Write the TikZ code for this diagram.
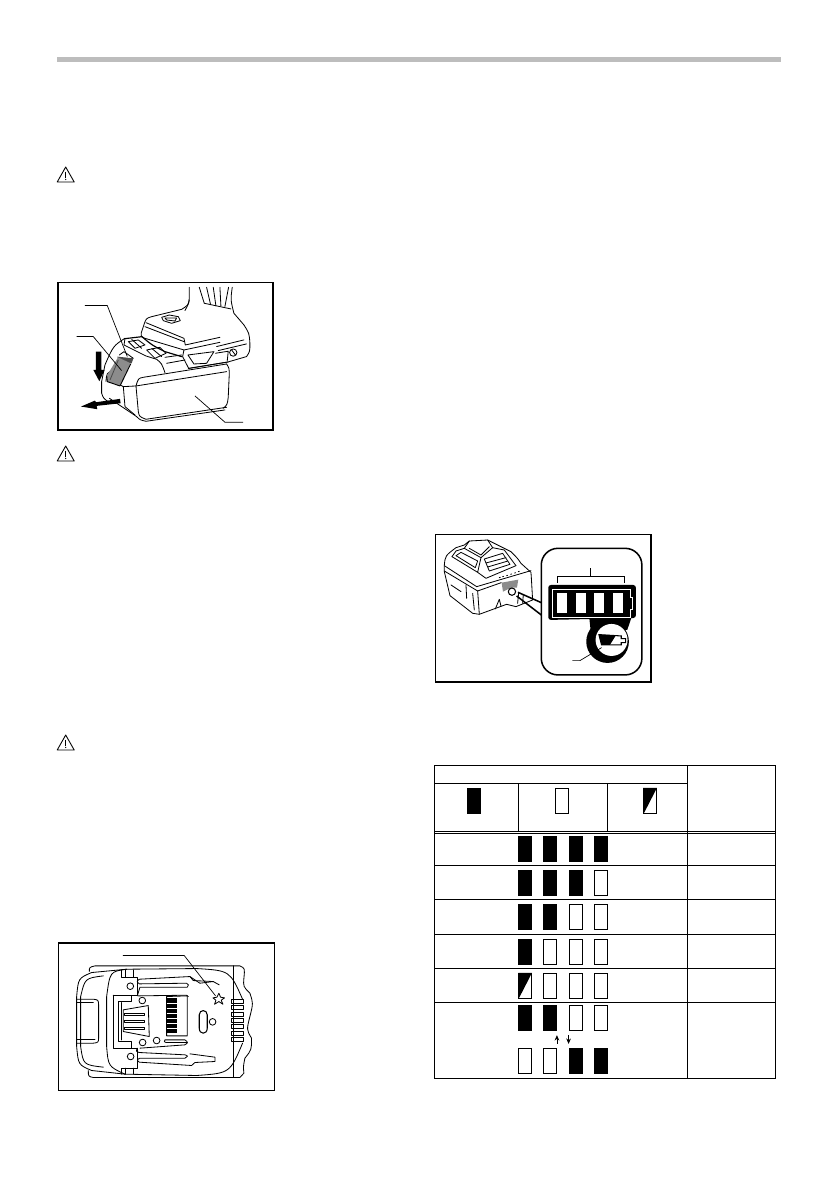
\documentclass[tikz,border=0pt]{standalone}
\usetikzlibrary{arrows.meta}
\definecolor{rulegray}{HTML}{BDBDBD}
\definecolor{latchgray}{HTML}{8C8C8C}
\definecolor{latchdark}{HTML}{4A4A4A}
\tikzset{
  boxframe/.style={draw=black, line width=1.3pt},
  cellrule/.style={draw=black, line width=0.8pt},
  ink/.style={draw=black, line width=0.7pt, line join=round, line cap=round},
  leader/.style={draw=black, line width=0.6pt},
  zoomed/.style={x=0.01cm, y=-0.01cm},
  warnsign/.pic={
    \draw[black, line width=0.75pt, line join=round] (0,0) -- (8.5,15) -- (-8.5,15) -- cycle;
    \draw[black, line width=0.9pt] (0,4.5) -- (0,10.5);
    \fill[black] (0,12.4) circle (0.7);
  },
  barfull/.pic={\fill[black] (0,0) rectangle (41,78);},
  barempty/.pic={\draw[black, line width=0.7pt, fill=white] (0.5,0.5) rectangle (40.5,77);},
  barhalf/.pic={
    \draw[black, line width=0.7pt, fill=white] (0.5,0.5) rectangle (40.5,77);
    \fill[black] (0,0) -- (41,0) -- (3,74) -- (0,74) -- cycle;
  }
}
\begin{document}
\begin{tikzpicture}[x=0.03cm, y=-0.03cm]
  \useasboundingbox[fill=white] (0,0) rectangle (838,1190);
  % top rule
  \fill[rulegray] (57,57) rectangle (781,62);
  % warning signs
  \foreach \yy in {167,446,735}
    \pic at (65.7,\yy) {warnsign};
  % tool and battery, side view
  \begin{scope}[shift={(50,160)}, zoomed]
    \draw[boxframe] (24,368) rectangle (670,810);
    % handle
    \draw[ink] (418,382) -- (418,415) .. controls (416,432) .. (405,452);
    \draw[ink] (547,382) .. controls (542,420) .. (552,460) .. controls (565,475) .. (582,495);
    \draw[ink] (448,382) -- (463,430) (470,382) -- (482,434) (490,382) -- (498,438) (510,382) -- (513,438) (536,382) -- (525,440);
    \draw[ink] (463,430) -- (543,447);
    % foot, right side
    \draw[ink] (582,495) .. controls (598,520) .. (600,550) .. controls (600,575) .. (590,590) -- (535,606) -- (415,626);
    \draw[ink] (500,560) -- (582,540) (505,572) -- (590,552);
    \draw[ink] (550,578) circle (11) (545,570) -- (557,586);
    \draw[ink] (497,580) -- (535,574) -- (532,603);
    % battery, right side
    \draw[ink] (530,612) .. controls (538,625) .. (538,645) -- (535,712) .. controls (532,735) .. (520,745);
    % arrows
    \fill[black] (138,575) -- (154,575) -- (154,630) -- (164,630) -- (148,664) -- (130,630) -- (138,630) -- cycle;
    \fill[black] (210,717) -- (212,730) -- (140,738) -- (142,748) -- (93,740) -- (135,722) -- (138,727) -- cycle;
    % battery, left side
    \draw[ink] (225,535) .. controls (190,558) .. (165,615) -- (155,665) -- (155,700) .. controls (160,715) .. (178,728);
    \draw[ink] (190,630) .. controls (170,640) .. (168,665);
  \end{scope}
  \begin{scope}[shift={(110,300)}, zoomed]
    % foot
    \draw[ink] (238,0) .. controls (235,15) .. (215,28) -- (125,50) .. controls (108,55) .. (100,80) -- (94,98) .. controls (93,110) .. (105,115) -- (222,150) -- (330,127);
    \draw[ink] (155,52) -- (178,45) -- (205,50) -- (211,62) -- (185,70) -- (160,62) -- cycle (165,54) -- (200,54) -- (195,63) -- (170,60) -- cycle;
    \draw[ink] (108,68) -- (222,115) -- (226,135) -- (330,112);
    \draw[ink] (105,80) -- (222,125);
    % window
    \draw[ink] (234,165) -- (312,155) -- (290,190) -- (252,192) -- cycle;
    \draw[ink] (222,150) -- (218,170) -- (236,205) -- (355,186);
    % plate
    \draw[ink, line width=1pt] (45,116) -- (96,110) .. controls (125,135) .. (165,155) -- (215,170);
    \draw[ink] (45,116) -- (42,135) -- (108,168) -- (140,178) .. controls (155,190) .. (165,218);
    \draw[ink] (55,125) -- (85,120) -- (105,135) -- (75,145) -- cycle (110,150) -- (150,142) -- (168,160) -- (135,175) -- cycle;
    \draw[ink] (65,118) -- (95,145) (125,145) -- (155,170);
    \draw[ink] (165,172) -- (215,165) (170,190) -- (225,180);
    % battery front
    \draw[ink] (350,192) -- (100,232) .. controls (85,235) .. (78,258) -- (40,260) -- (25,252);
    \draw[ink] (78,258) -- (350,215);
    \draw[ink] (78,258) -- (85,335) .. controls (88,350) .. (108,358) -- (350,322);
    \draw[ink] (-2,295) -- (80,350) .. controls (90,360) .. (108,364) -- (345,330);
    \draw[ink] (40,260) -- (45,320) (45,320) -- (75,345);
    % latch
    \fill[latchdark] (22,170) -- (70,175) -- (65,190) -- (45,190) -- (25,178) -- cycle;
    \fill[latchgray] (-10,228) -- (24,172) -- (62,190) -- (30,258) -- (-8,245) -- cycle;
    \draw[black, line width=0.8pt] (-8,245) -- (30,258) (30,258) -- (62,192) (-10,228) -- (-8,245);
    \draw[ink] (28,165) -- (42,155) -- (70,175);
    \draw[latchdark, line width=0.7pt] (25,180) -- (0,240);
  \end{scope}
  \begin{scope}[shift={(50,160)}, zoomed]
    % leaders
    \draw[leader] (105,437) -- (172,437) -- (232,590);
    \draw[leader] (80,530) -- (130,530) -- (215,632);
    \draw[leader] (435,708) -- (525,787) -- (580,787);
  \end{scope}
  % battery with gauge
  \begin{scope}[shift={(430,530)}, zoomed]
    \draw[boxframe] (16,14) rectangle (664,456);
    % rounded panel
    \draw[black, line width=1.3pt, fill=white, rounded corners=0.5cm] (334,55) rectangle (636,435);
    % gauge, black ground
    \fill[black, rounded corners=0.08cm] (355,165) -- (618,165) -- (618,264) -- (355,270) -- cycle;
    \fill[black] (533,335) circle (64);
    \fill[black] (478,262) -- (605,262) -- (592,300) -- (482,300) -- cycle;
    \fill[white] (545,330) circle (48);
    \draw[white, line width=0.6pt] (367,178) -- (600,178) -- (600,202) -- (607,202) -- (607,238) -- (600,238) -- (600,262) -- (367,262) -- cycle;
    \foreach \xx in {382,437,493,550}
      \fill[white] (\xx,190) rectangle ++(30,60);
    % small cell sign
    \fill[black] (507,314) -- (558,316) -- (540,345) -- (515,345) -- cycle;
    \draw[black, line width=0.9pt] (507,314) -- (574,318) -- (574,326) -- (587,326) -- (587,338) -- (574,338) -- (574,345) -- (515,345) -- cycle;
    % bracket and leaders
    \draw[leader] (382,158) -- (382,140) -- (582,140) -- (582,158) (481,115) -- (481,140);
    \draw[leader] (427,392) -- (450,392) -- (515,353);
  \end{scope}
  \begin{scope}[shift={(436,535)}, zoomed]
    % battery body
    \draw[ink] (25,90) .. controls (28,62) .. (60,38) -- (85,30) -- (100,18) -- (155,15) -- (195,35) -- (225,50) .. controls (245,70) .. (255,85) -- (285,112) -- (286,125) -- (290,195) -- (240,215) -- (212,208) -- (130,238) -- (110,235) -- (42,182) -- (25,110) -- cycle;
    \draw[ink] (25,92) -- (122,155) -- (285,107) (25,108) -- (125,168) -- (196,143);
    \draw[ink] (125,168) -- (130,238);
    \draw[ink] (45,150) -- (75,170) (90,150) -- (92,190) (110,175) -- (115,225);
    \draw[ink] (178,222) -- (190,193) -- (195,213) (245,205) -- (248,175) (260,205) -- (262,180);
    % handle on top
    \draw[ink] (48,65) -- (60,48) -- (85,40) -- (100,18) (155,15) -- (170,38) -- (205,45) -- (240,92);
    \draw[ink] (48,65) -- (125,112) -- (135,68) -- (85,40) (60,62) -- (118,98) -- (125,78) -- (75,52) -- cycle;
    \draw[ink] (135,68) -- (170,38) (100,40) -- (135,60) -- (160,35);
    \draw[ink] (125,112) -- (150,130) -- (240,92);
    \draw[ink] (145,72) -- (200,55) -- (222,88) -- (160,108) -- cycle (150,84) -- (210,68) (155,96) -- (216,78);
    \foreach \dx/\dy in {190/128,200/125,212/122,224/118,236/114,247/110}
      \draw[ink] (\dx,\dy) -- ++(3,-1);
    % switch patch and button
    \fill[latchgray] (197,143) -- (247,134) -- (243,158) -- (226,158) -- (201,170) -- cycle;
    \draw[ink, line width=0.9pt, fill=white] (228,170) circle (11);
    % wedge to gauge
    \draw[black, line width=1.3pt] (246,172) -- (316,203) (242,183) -- (316,240);
  \end{scope}
  % indication table
  \begin{scope}[shift={(425,760)}, zoomed]
    \draw[cellrule] (28,16) rectangle (1051,956);
    \draw[cellrule] (787,16) -- (787,956) (28,70) -- (787,70);
    \draw[cellrule] (280,70) -- (280,214) (548,70) -- (548,214);
    \draw[cellrule] (28,214) -- (1051,214) (28,220) -- (1051,220);
    \foreach \yy in {316,418,523,625,727}
      \draw[cellrule] (28,\yy) -- (1051,\yy);
    % legend signs
    \pic at (127,84) {barfull};
    \pic at (390,84) {barempty};
    \pic at (655,84) {barhalf};
    % rows of cells
    \foreach \yy/\a/\b/\c/\d in {228/full/full/full/full, 330/full/full/full/empty, 432/full/full/empty/empty, 537/full/empty/empty/empty, 639/half/empty/empty/empty, 735/full/full/empty/empty, 864/empty/empty/full/full}
      {\pic at (280,\yy) {bar\a};
       \pic at (355,\yy) {bar\b};
       \pic at (433,\yy) {bar\c};
       \pic at (508,\yy) {bar\d};}
    % swap marks
    \draw[black, line width=0.6pt, -{Stealth[length=1.6mm, width=1.4mm]}] (396,852) -- (396,826);
    \draw[black, line width=0.6pt, -{Stealth[length=1.6mm, width=1.4mm]}] (431,826) -- (431,852);
  \end{scope}
  % battery, terminal side
  \begin{scope}[shift={(50,730)}, zoomed]
    \draw[boxframe] (26,640) rectangle (674,1082);
    % outer shell
    \draw[ink] (118,725) .. controls (118,712) .. (135,708) -- (550,708) -- (570,708) .. controls (585,715) .. (582,745) .. controls (580,770) .. (600,790) .. controls (610,820) .. (600,860) .. controls (590,900) .. (605,925) .. controls (605,960) .. (585,985) .. controls (580,1010) .. (582,1030) -- (570,1043) -- (130,1043) .. controls (115,1040) .. (115,1022);
    \draw[ink] (551,708) -- (551,1043);
    \draw[ink] (125,728) .. controls (85,745) .. (80,800) -- (80,950) .. controls (85,1005) .. (125,1022) -- (225,1033);
    \draw[ink] (160,738) .. controls (105,745) .. (92,800) -- (92,950) .. controls (100,1005) .. (160,1012);
    \draw[ink] (125,728) -- (230,718);
    \draw[ink] (230,718) .. controls (180,725) .. (170,800) -- (170,950) .. controls (175,1010) .. (225,1033);
    \draw[ink] (230,718) -- (440,716) .. controls (540,722) .. (578,808);
    \draw[ink] (225,1033) -- (440,1037) .. controls (540,1030) .. (578,940);
    % handle slot
    \draw[ink] (82,808) -- (130,808) .. controls (145,810) .. (146,825) -- (146,925) .. controls (145,938) .. (130,940) -- (82,940);
    \draw[ink] (82,817) -- (130,817) (82,930) -- (135,930);
    % terminal block
    \draw[ink] (215,720) -- (215,742) -- (262,742) -- (262,798) -- (190,798) (190,796) -- (190,955) -- (262,955) -- (262,1015) -- (215,1015) -- (215,1033);
    \draw[ink] (225,720) -- (225,742) (225,1015) -- (225,1033) (250,720) -- (250,742) (250,1015) -- (250,1033);
    \draw[ink] (190,798) -- (245,798) -- (245,815) -- (205,815) -- (205,935) -- (245,935) -- (245,955);
    \draw[ink] (215,818) -- (215,930);
    \draw[ink] (220,840) -- (295,827) -- (298,920) -- (220,905) -- cycle;
    \foreach \yy in {850,872,893}
      \draw[ink] (222,\yy) rectangle (282,\yy+7);
    \foreach \xx/\yy in {241/769,277/812,278/938,320/932,242/980,488/876}
      \draw[ink] (\xx,\yy) circle (10);
    % slots
    \draw[ink] (268,748) -- (420,740) -- (450,760) -- (490,755) -- (508,765) (268,762) .. controls (260,755) .. (268,748) (268,762) -- (410,760) .. controls (417,765) .. (412,772) -- (270,772) -- (262,798);
    \draw[ink] (420,740) -- (430,752) -- (490,755) (265,798) -- (410,796) -- (415,800);
    \draw[ink] (262,955) .. controls (258,965) .. (268,968) -- (405,975) .. controls (415,978) .. (405,985) -- (270,985) .. controls (260,990) .. (268,997) -- (425,1007) -- (435,998) -- (495,995) -- (495,982) -- (420,972);
    \draw[ink] (345,930) -- (405,930) .. controls (415,938) .. (405,945) -- (270,955) (345,930) .. controls (342,936) .. (348,938) -- (410,938);
    % contacts
    \fill[black] (350,804) rectangle (382,910);
    \draw[ink] (350,800) -- (412,798) -- (412,918) -- (350,918) -- cycle;
    \foreach \yy in {820,835,850,866,880,895}
      \draw[white, line width=0.6pt] (350,\yy) -- (382,\yy);
    % oval and star
    \draw[ink, line width=0.9pt] (448,855) .. controls (448,838) and (472,838) .. (472,855) -- (472,895) .. controls (472,915) and (448,915) .. (448,895) -- cycle;
    \draw[ink] (507,790) -- (512,802) -- (524,804) -- (514,811) -- (519,823) -- (507,815) -- (494,823) -- (498,811) -- (489,804) -- (501,802) -- cycle;
    % vents
    \foreach \yy in {810,828,847,866,885,904,922}
      \draw[ink] (544,\yy) rectangle (580,\yy+12);
    % leader
    \draw[leader] (219,677) -- (403,677) -- (497,798);
  \end{scope}
\end{tikzpicture}
\end{document}
